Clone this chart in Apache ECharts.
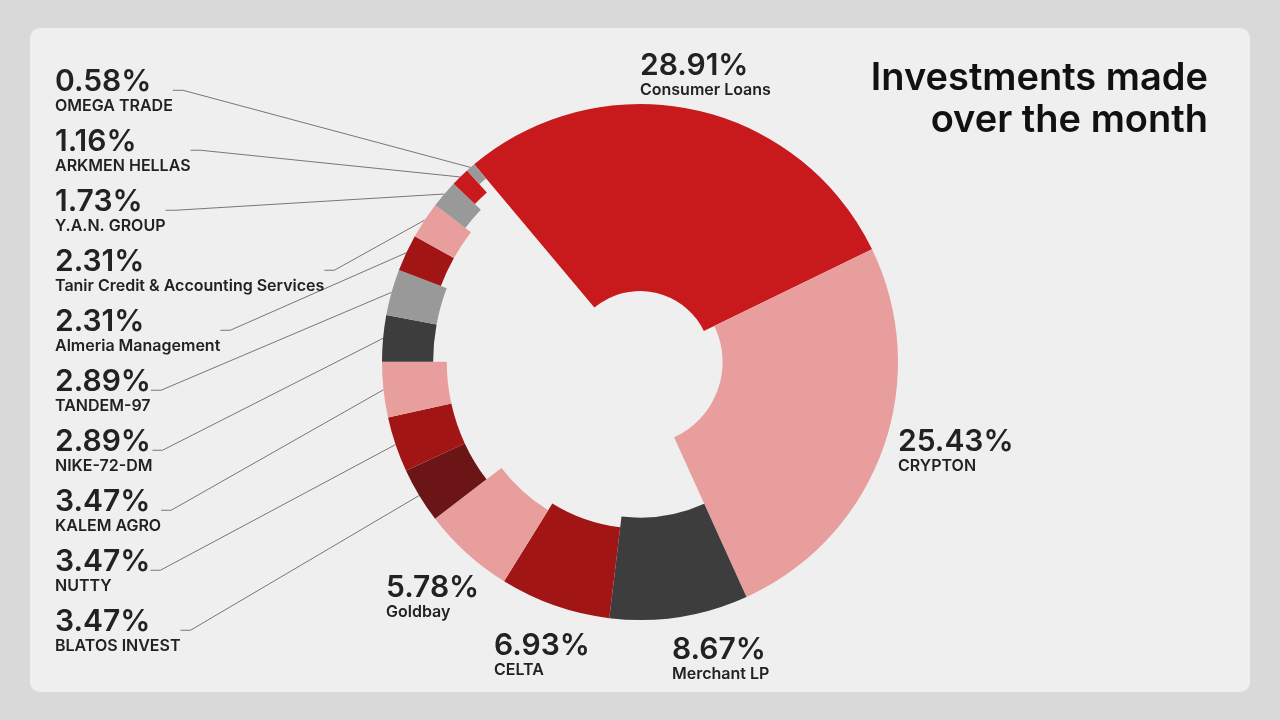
<!DOCTYPE html>
<html><head><meta charset="utf-8">
<script src="https://cdn.jsdelivr.net/npm/echarts@6/dist/echarts.min.js"></script>
<style>html,body{margin:0;padding:0;background:#d4d4d4;}#c{width:1280px;height:720px;}</style>
</head><body><div id="c"></div>
<script>
const names = ['Consumer Loans','CRYPTON','Merchant LP','CELTA','Goldbay','BLATOS INVEST','NUTTY','KALEM AGRO','NIKE-72-DM','TANDEM-97','Almeria Management','Tanir Credit & Accounting Services','Y.A.N. GROUP','ARKMEN HELLAS','OMEGA TRADE'];
const values = [28.91,25.43,8.67,6.93,5.78,3.47,3.47,3.47,2.89,2.89,2.31,2.31,1.73,1.16,0.58];
const colors = ['#c8191c','#e89e9d','#3d3d3d','#a21515','#e89e9d','#6b1517','#a21515','#e89e9d','#3d3d3d','#999999','#a21515','#e89e9d','#999999','#c8191c','#999999'];
const bigPos = [[640,50],[898,426],[672,634],[494,630],[386,572]];
const chart = echarts.init(document.getElementById('c'));
const total = values.reduce((a,b)=>a+b,0);
const outer = 258, start = 130;
let cum = 0;
const series = values.map((v,i)=>{
  const sa = start - 360*cum/total; cum += v;
  const t = Math.min(188, 187*Math.pow(v/values[0],0.5) - (v<3?8:0));
  const big = i < 5;
  const k = values.length-1-i;
  return {
    type:'pie', center:[640,362], radius:[outer-t, outer], startAngle:sa, clockwise:true,
    silent:true, animation:false, avoidLabelOverlap:false,
    data:[
      {value:v, name:names[i], itemStyle:{color:colors[i]},
       label:{show:true, position:'outside', formatter:'{p|'+v.toFixed(2)+'%}\n{n|'+names[i]+'}',
         rich:{p:{fontSize:30,fontWeight:600,color:'#222',fontFamily:'Inter',lineHeight:31},
               n:{fontSize:16,fontWeight:600,color:'#222',fontFamily:'Inter',lineHeight:18}}},
       labelLine:{show:!big, lineStyle:{color:'#777',width:1}, length:10, length2:10}},
      {value:total-v, name:'', itemStyle:{color:'transparent'}, label:{show:false}, labelLine:{show:false}}
    ],
    labelLayout: big ? {x:bigPos[i][0], y:bigPos[i][1], align:'left', verticalAlign:'top'}
                     : {x:55, y:66+60*k, align:'left', verticalAlign:'top'}
  };
});
chart.setOption({
  backgroundColor:'#d9d9d9',
  graphic:[
    {type:'rect', shape:{x:30,y:28,width:1220,height:664,r:10}, style:{fill:'#efefef'}, z:-10},
    {type:'text', x:1208, y:58, style:{text:'Investments made\nover the month', fill:'#111', font:'600 38px Inter', align:'right', lineHeight:42}}
  ],
  series
});
</script></body></html>
